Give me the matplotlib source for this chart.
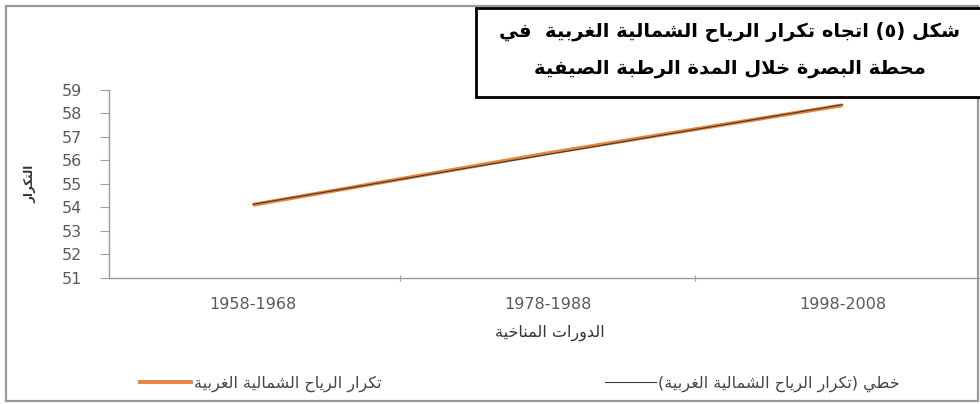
import numpy as np
import matplotlib
matplotlib.use("Agg")
import matplotlib.pyplot as plt
from matplotlib.patches import Rectangle
from matplotlib.lines import Line2D

# ---- data ----
periods = ["1958-1968", "1978-1988", "1998-2008"]
frequency = [54.1, 56.3, 58.35]
y_ticks = [51, 52, 53, 54, 55, 56, 57, 58, 59]

title_lines = ["شكل (٥) اتجاه تكرار الرياح الشمالية الغربية  في",
               "محطة البصرة خلال المدة الرطبة الصيفية"]
x_label = "الدورات المناخية"
y_label = "التكرار"
series_name = "تكرار الرياح الشمالية الغربية"
trend_name = "خطي (تكرار الرياح الشمالية الغربية)"

# ---- Arabic contextual shaping (matplotlib has no complex text layout) ----
_FORMS = {
    'ء': ('\uFE80', None, None, None),
    'آ': ('\uFE81', '\uFE82', None, None),
    'أ': ('\uFE83', '\uFE84', None, None),
    'ؤ': ('\uFE85', '\uFE86', None, None),
    'إ': ('\uFE87', '\uFE88', None, None),
    'ئ': ('\uFE89', '\uFE8A', '\uFE8B', '\uFE8C'),
    'ا': ('\uFE8D', '\uFE8E', None, None),
    'ب': ('\uFE8F', '\uFE90', '\uFE91', '\uFE92'),
    'ة': ('\uFE93', '\uFE94', None, None),
    'ت': ('\uFE95', '\uFE96', '\uFE97', '\uFE98'),
    'ث': ('\uFE99', '\uFE9A', '\uFE9B', '\uFE9C'),
    'ج': ('\uFE9D', '\uFE9E', '\uFE9F', '\uFEA0'),
    'ح': ('\uFEA1', '\uFEA2', '\uFEA3', '\uFEA4'),
    'خ': ('\uFEA5', '\uFEA6', '\uFEA7', '\uFEA8'),
    'د': ('\uFEA9', '\uFEAA', None, None),
    'ذ': ('\uFEAB', '\uFEAC', None, None),
    'ر': ('\uFEAD', '\uFEAE', None, None),
    'ز': ('\uFEAF', '\uFEB0', None, None),
    'س': ('\uFEB1', '\uFEB2', '\uFEB3', '\uFEB4'),
    'ش': ('\uFEB5', '\uFEB6', '\uFEB7', '\uFEB8'),
    'ص': ('\uFEB9', '\uFEBA', '\uFEBB', '\uFEBC'),
    'ض': ('\uFEBD', '\uFEBE', '\uFEBF', '\uFEC0'),
    'ط': ('\uFEC1', '\uFEC2', '\uFEC3', '\uFEC4'),
    'ظ': ('\uFEC5', '\uFEC6', '\uFEC7', '\uFEC8'),
    'ع': ('\uFEC9', '\uFECA', '\uFECB', '\uFECC'),
    'غ': ('\uFECD', '\uFECE', '\uFECF', '\uFED0'),
    'ف': ('\uFED1', '\uFED2', '\uFED3', '\uFED4'),
    'ق': ('\uFED5', '\uFED6', '\uFED7', '\uFED8'),
    'ك': ('\uFED9', '\uFEDA', '\uFEDB', '\uFEDC'),
    'ل': ('\uFEDD', '\uFEDE', '\uFEDF', '\uFEE0'),
    'م': ('\uFEE1', '\uFEE2', '\uFEE3', '\uFEE4'),
    'ن': ('\uFEE5', '\uFEE6', '\uFEE7', '\uFEE8'),
    'ه': ('\uFEE9', '\uFEEA', '\uFEEB', '\uFEEC'),
    'و': ('\uFEED', '\uFEEE', None, None),
    'ى': ('\uFEEF', '\uFEF0', None, None),
    'ي': ('\uFEF1', '\uFEF2', '\uFEF3', '\uFEF4'),
}
_LAM_ALEF = {'ا': ('\uFEFB', '\uFEFC'), 'أ': ('\uFEF7', '\uFEF8'),
             'إ': ('\uFEF9', '\uFEFA'), 'آ': ('\uFEF5', '\uFEF6')}


def shape(text):
    units, i = [], 0
    while i < len(text):
        c = text[i]
        if c == 'ل' and i + 1 < len(text) and text[i + 1] in _LAM_ALEF:
            units.append(('LA', text[i + 1]))
            i += 2
        else:
            units.append(('C', c))
            i += 1

    def joins_next(u):
        if u[0] == 'LA':
            return False
        f = _FORMS.get(u[1])
        return f is not None and f[2] is not None

    def joins_prev(u):
        if u[0] == 'LA':
            return True
        f = _FORMS.get(u[1])
        return f is not None and f[1] is not None

    out = []
    for k, u in enumerate(units):
        prev_ok = k > 0 and joins_next(units[k - 1]) and joins_prev(u)
        next_ok = k + 1 < len(units) and joins_next(u) and joins_prev(units[k + 1])
        if u[0] == 'LA':
            out.append(_LAM_ALEF[u[1]][1 if prev_ok else 0])
            continue
        f = _FORMS.get(u[1])
        if f is None:
            out.append(u[1])
        elif prev_ok and next_ok:
            out.append(f[3])
        elif prev_ok:
            out.append(f[1])
        elif next_ok:
            out.append(f[2])
        else:
            out.append(f[0])
    visual = ''.join(reversed(out))
    return visual.translate(str.maketrans('()', ')('))


plt.rcParams['font.family'] = ['DejaVu Sans']

W, H = 980, 404
fig = plt.figure(figsize=(W / 100, H / 100), dpi=100)
fig.patch.set_facecolor('white')


def fx(px):
    return px / W


def fy(py):
    return 1 - py / H


ORANGE = '#E8843A'
TREND = '#3a3a3a'

# outer chart frame
fig.add_artist(Rectangle((fx(6), fy(401)), fx(972), (395) / H, transform=fig.transFigure,
                         fill=False, edgecolor='#9a9a9a', linewidth=1.6))

ax = fig.add_axes([fx(109), fy(277.5), fx(881), (277.5 - 90) / H])
x = np.arange(len(periods))

ax.plot(x, frequency, color=ORANGE, linewidth=2.8, solid_capstyle='butt', zorder=3)
coef = np.polyfit(x, frequency, 1)
ax.plot(x, np.polyval(coef, x), color=TREND, linewidth=0.8, zorder=4)

ax.set_xlim(-0.488, 2.5)
ax.set_ylim(51, 59)
ax.set_yticks(y_ticks)
ax.set_xticks(x)
ax.set_xticklabels(periods)
ax.set_xticks([0.5, 1.5], minor=True)

for s in ('top', 'right'):
    ax.spines[s].set_visible(False)
for s in ('left', 'bottom'):
    ax.spines[s].set_color('#9a9a9a')
    ax.spines[s].set_linewidth(1.0)

ax.tick_params(axis='y', direction='out', length=6.5, width=0.8, color='#a0a0a0',
               pad=13, labelsize=11.5, labelcolor='#5a5a5a')
ax.tick_params(axis='x', which='major', length=0, pad=14, labelsize=11.5,
               labelcolor='#5a5a5a')
ax.tick_params(axis='x', which='minor', direction='inout', length=5, width=0.8,
               color='#a0a0a0')

ax.set_xlabel(shape(x_label), fontsize=11.5, color='#333333', labelpad=9)
fig.text(fx(30), fy(184), shape(y_label), rotation=90, ha='center', va='center',
         fontsize=8.5, fontweight='bold', color='#333333')

# title box
fig.add_artist(Rectangle((fx(476), fy(97)), fx(520), (97 - 8) / H, transform=fig.transFigure,
                         fill=True, facecolor='white', edgecolor='black', linewidth=2,
                         zorder=5))
fig.text(fx(730), fy(32), shape(title_lines[0]), ha='center', va='center',
         fontsize=14, fontweight='bold', color='black', zorder=6)
fig.text(fx(730), fy(68), shape(title_lines[1]), ha='center', va='center',
         fontsize=14, fontweight='bold', color='black', zorder=6)

handles = [Line2D([], [], color=ORANGE, linewidth=2.8),
           Line2D([], [], color=TREND, linewidth=0.8)]
fig.legend(handles, [shape(series_name), shape(trend_name)], ncol=2,
           loc='center', bbox_to_anchor=(fx(520), fy(384)), frameon=False,
           fontsize=11.5, labelcolor='#444444', handlelength=3.2, handletextpad=0.15,
           columnspacing=14)

fig.savefig('out.png', dpi=100, facecolor='white')
